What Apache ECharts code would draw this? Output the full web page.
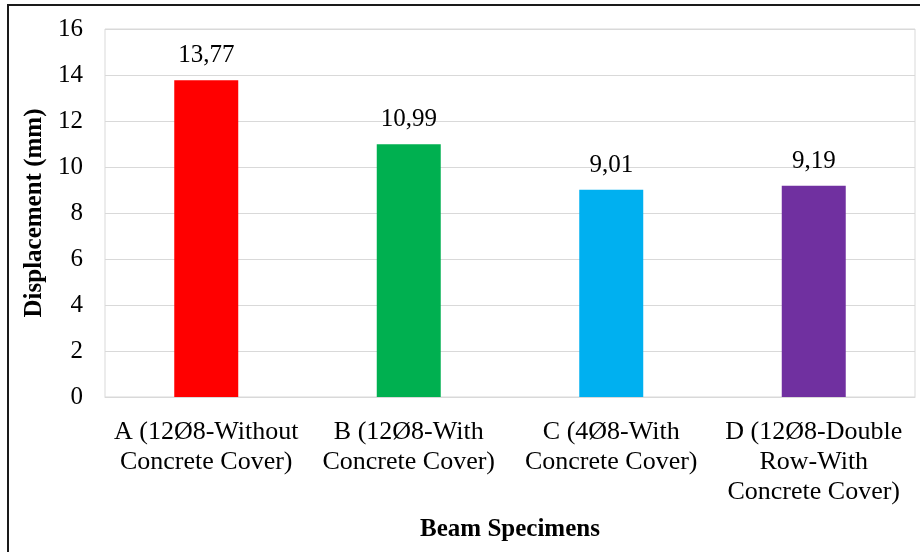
<!DOCTYPE html>
<html>
<head>
<meta charset="utf-8">
<script src="https://cdn.jsdelivr.net/npm/echarts@6/dist/echarts.min.js"></script>
<style>html,body{margin:0;padding:0;background:#fff;}#c{width:920px;height:552px;}</style>
</head>
<body>
<div id="c"></div>
<script>
const categories = [
  "A (12Ø8-Without\nConcrete Cover)",
  "B (12Ø8-With\nConcrete Cover)",
  "C (4Ø8-With\nConcrete Cover)",
  "D (12Ø8-Double\nRow-With\nConcrete Cover)"
];
const displacement = [13.77, 10.99, 9.01, 9.19];
const barColors = ["#ff0000", "#00b050", "#00b0f0", "#7030a0"];
const yTicks = { min: 0, max: 16, interval: 2 };
const xTitle = "Beam Specimens";
const yTitle = "Displacement (mm)";

const FONT = "'Liberation Serif', 'Times New Roman', serif";
const chart = echarts.init(document.getElementById('c'), null, { renderer: 'canvas' });
chart.setOption({
  backgroundColor: '#fff',
  animation: false,
  textStyle: { fontFamily: FONT },
  graphic: [{
    type: 'rect', silent: true, z: 100,
    shape: { x: 8, y: 5, width: 1200, height: 1200 },
    style: { fill: 'none', stroke: '#1a1a1a', lineWidth: 2 }
  }],
  grid: { left: 105, right: 5, top: 29, bottom: 155, show: true, borderColor: '#d9d9d9', borderWidth: 1 },
  xAxis: {
    type: 'category',
    data: categories,
    name: xTitle,
    nameLocation: 'middle',
    nameGap: 120,
    nameTextStyle: { fontFamily: FONT, fontWeight: 'bold', fontSize: 25, color: '#000' },
    axisLine: { lineStyle: { color: '#d9d9d9' } },
    axisTick: { show: false },
    axisLabel: { interval: 0, fontFamily: FONT, fontSize: 26, color: '#000', lineHeight: 30, margin: 20 }
  },
  yAxis: {
    type: 'value',
    min: yTicks.min, max: yTicks.max, interval: yTicks.interval,
    name: yTitle,
    nameLocation: 'middle',
    nameGap: 56,
    nameRotate: 90,
    nameTextStyle: { fontFamily: FONT, fontWeight: 'bold', fontSize: 25, color: '#000' },
    axisLine: { show: false },
    axisTick: { show: false },
    splitLine: { lineStyle: { color: '#d9d9d9', width: 1 } },
    axisLabel: { fontFamily: FONT, fontSize: 25, color: '#000', margin: 22 }
  },
  series: [{
    type: 'bar',
    barWidth: '31.6%',
    data: displacement.map((v, i) => ({ value: v, itemStyle: { color: barColors[i] } })),
    label: {
      show: true, position: 'top', distance: 12,
      fontFamily: FONT, fontSize: 25, color: '#000',
      formatter: p => p.value.toFixed(2).replace('.', ',')
    }
  }]
});
</script>
</body>
</html>
